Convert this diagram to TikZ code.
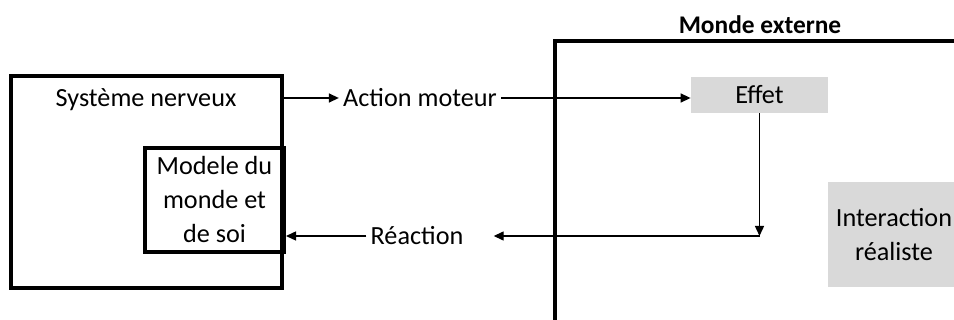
\documentclass[tikz,border=0pt]{standalone}
\usepackage{fontspec}
\setmainfont{Carlito}
\usetikzlibrary{positioning}
\usetikzlibrary{calc}
\usetikzlibrary{arrows.meta}
\tikzset{
box/.style={
  draw=black,
  line width=2pt,
  inner sep=0pt
  },
txt/.style={
  font=\fontsize{13.1}{17}\selectfont,
  inner sep=2pt
  },
grey/.style={
  fill=black!15,
  inner sep=0pt,
  align=center,
  font=\fontsize{13.1}{17}\selectfont
  },
link/.style={
  -{Triangle[length=5pt,width=4.5pt]},
  line width=0.7pt
  }
}
\begin{document}
\begin{tikzpicture}[x=0.5pt,y=-0.5pt]
    \useasboundingbox (0,0) rectangle (954,320);
    % nervous system
    \node[box,minimum width=135.5pt,minimum height=106pt] (sys) at (146.5,182) {};
    \node[txt] (syslabel) at (146,100) {Système nerveux};
    \node[box,txt,align=center,minimum width=69.5pt,minimum height=52pt] (model) at (214.5,200) {Modele du\\monde et\\de soi};
    % outer world
    \coordinate (world) at (555,41);
    \draw[line width=2pt] (960,41) -- (world) -- (555,325);
    \node[txt,font=\fontsize{12.7}{15}\selectfont\bfseries] (worldlabel) at (760,25) {Monde externe};
    \node[grey,minimum width=68.5pt,minimum height=18pt] (effet) at (759.5,95) {Effet};
    \node[grey,minimum width=66pt,minimum height=52.5pt] (inter) at (894,234.5) {Interaction\\réaliste};
    % loop
    \node[txt] (action) at (420,98) {Action moteur};
    \node[txt] (reaction) at (417,236) {Réaction};
    \coordinate (turn) at (effet.south |- reaction);
    \draw[link] (sys.east |- action) -- (action);
    \draw[link] (action.east) -- (effet.west |- action.east);
    \draw[link] (effet.south) -- (turn);
    \draw[link,shorten >=13pt] (turn) -- (reaction);
    \draw[link] (reaction) -- (model.east |- reaction);
\end{tikzpicture}
\end{document}
